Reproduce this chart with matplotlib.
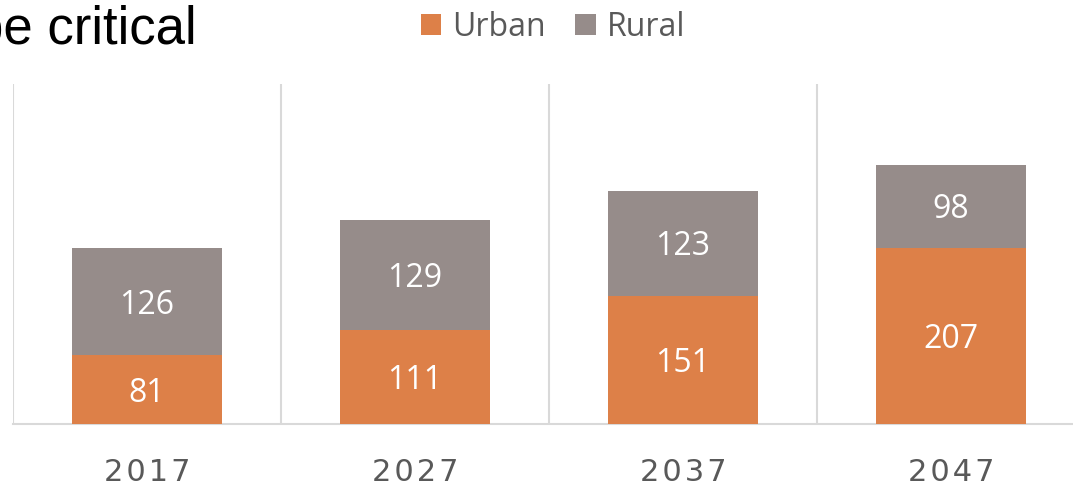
import matplotlib.pyplot as plt
import numpy as np
from matplotlib.patches import Patch

# Data
years = ['2017', '2027', '2037', '2047']
urban = [81, 111, 151, 207]
rural = [126, 129, 123, 98]

colors = {'urban': '#DD8048', 'rural': '#968C8A', 'grid': '#D9D9D9', 'text': '#595959'}

fig = plt.figure(figsize=(10.73, 4.89), dpi=100)
ax = fig.add_axes([13 / 1073, 64 / 489, 1072 / 1073, 340 / 489])

x = np.arange(len(years))
w = 0.56
ax.bar(x, urban, width=w, color=colors['urban'], zorder=3)
ax.bar(x, rural, width=w, bottom=urban, color=colors['rural'], zorder=3)

# Value labels inside segments
for i in range(len(years)):
    ax.text(x[i], urban[i] / 2 - 3, str(urban[i]), ha='center', va='center',
            fontsize=23, color='white', family='Open Sans', zorder=4)
    ax.text(x[i], urban[i] + rural[i] / 2 - 3, str(rural[i]), ha='center', va='center',
            fontsize=23, color='white', family='Open Sans', zorder=4)

# Category separators
for b in np.arange(-0.5, len(years), 1.0):
    ax.axvline(b, color=colors['grid'], lw=1.5, zorder=1)

ax.set_xlim(-0.5, len(years) - 0.5)
ax.set_ylim(0, 400)
for s in ['top', 'right', 'left']:
    ax.spines[s].set_visible(False)
ax.spines['bottom'].set_color(colors['grid'])
ax.spines['bottom'].set_linewidth(1.5)
ax.set_yticks([])
ax.set_xticks(x)
ax.set_xticklabels(['\u200a'.join(y) for y in years], fontsize=22, color=colors['text'],
                   family='DejaVu Sans')
ax.tick_params(axis='x', length=0, pad=24)

# Legend
handles = [Patch(facecolor=colors['urban'], label='Urban'),
           Patch(facecolor=colors['rural'], label='Rural')]
fig.legend(handles=handles, loc='center', bbox_to_anchor=(553 / 1073, 1 - 28 / 489),
           ncol=2, frameon=False, labelcolor=colors['text'],
           handlelength=0.65, handleheight=0.65, handletextpad=0.35, columnspacing=0.9,
           prop={'family': 'Open Sans', 'size': 23})

# Title fragment (cut off at the left edge, as in the source slide)
fig.text(197 / 1073, 1 - 43 / 489, 'be critical', ha='right', va='baseline',
         fontsize=38, color='black', family='Liberation Sans')

plt.savefig('out.png', dpi=100)
plt.close()
